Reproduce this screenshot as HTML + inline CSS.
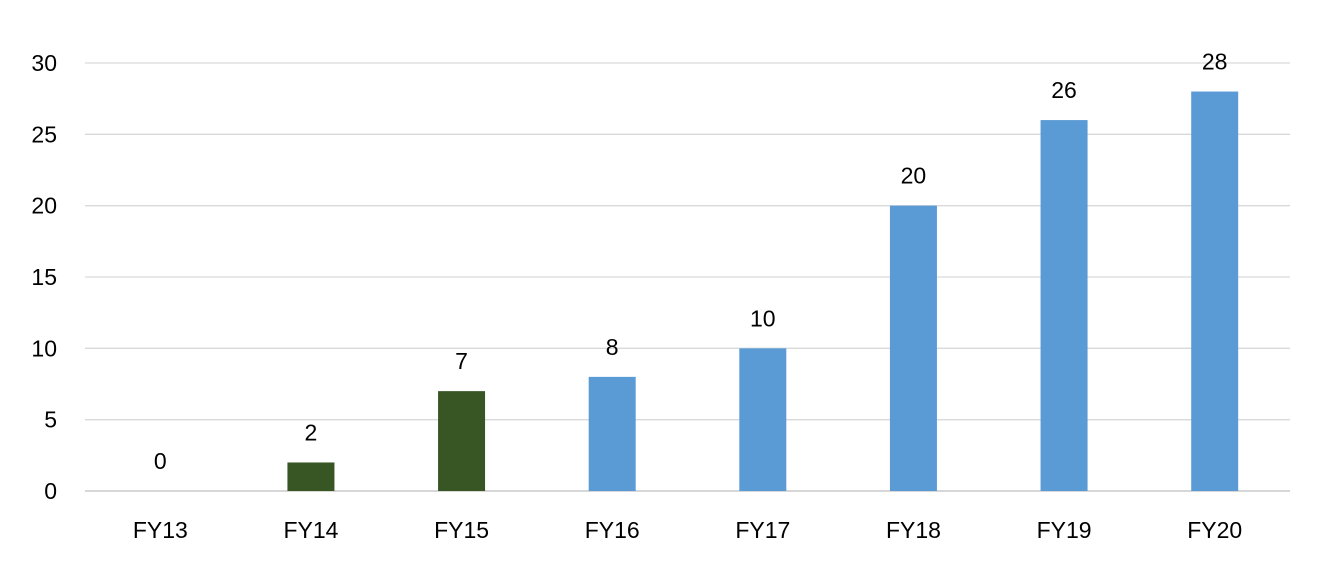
<!DOCTYPE html>
<html><head><meta charset="utf-8"><style>
html,body{margin:0;padding:0;background:#fff;}
svg{display:block;font-family:"Liberation Sans",Arial,sans-serif;}
</style></head><body>
<svg id="chart" width="1331" height="587" viewBox="0 0 1331 587" xmlns="http://www.w3.org/2000/svg">
<g id="grid"></g>
<g id="yticks"></g>
<g id="bars"></g>
<g id="labels"></g>
<g id="xticks"></g>
</svg>
<script>
const categories = ["FY13","FY14","FY15","FY16","FY17","FY18","FY19","FY20"];
const values = [0,2,7,8,10,20,26,28];
const seriesGroup = ["green","green","green","blue","blue","blue","blue","blue"];
const yTicks = [0,5,10,15,20,25,30];

const NS = "http://www.w3.org/2000/svg";
const plotL = 85, plotR = 1290, y0 = 491, yTop = 63, yMax = 30;
const colors = {green:"#375623", blue:"#5B9BD5"};
const band = (plotR - plotL) / categories.length;
const barW = 47;
function yScale(v){ return y0 - (v / yMax) * (y0 - yTop); }
function xCenter(i){ return plotL + band * (i + 0.5); }
function mk(tag, attrs, parent){ const e = document.createElementNS(NS, tag); for (const k in attrs) e.setAttribute(k, attrs[k]); parent.appendChild(e); return e; }

const grid = document.getElementById("grid");
const yt = document.getElementById("yticks");
yTicks.forEach(t => {
  const y = yScale(t);
  const l = mk("line", {x1:plotL, x2:plotR, y1:y, y2:y, stroke: t===0 ? "#BFBFBF" : "#D9D9D9", "stroke-width":1.3}, grid);
  
  
  const tx = mk("text", {x:57, y:y+8, "text-anchor":"end", "font-size":23, fill:"#000"}, yt);
  tx.textContent = t;
  
  
});

const bars = document.getElementById("bars");
const labels = document.getElementById("labels");
const xt = document.getElementById("xticks");
categories.forEach((c, i) => {
  const cx = xCenter(i), v = values[i], top = yScale(v);
  const r = mk("rect", {x:cx - barW/2, y:top, width:barW, height:y0 - top, fill:colors[seriesGroup[i]]}, bars);
  
  
  const vl = mk("text", {x:cx, y:top - 22, "text-anchor":"middle", "font-size":23, fill:"#000"}, labels);
  vl.textContent = v;
  
  
  const xl = mk("text", {x:cx, y:538, "text-anchor":"middle", "font-size":23, fill:"#000"}, xt);
  xl.textContent = c;
  
  
});
</script>
</body></html>
